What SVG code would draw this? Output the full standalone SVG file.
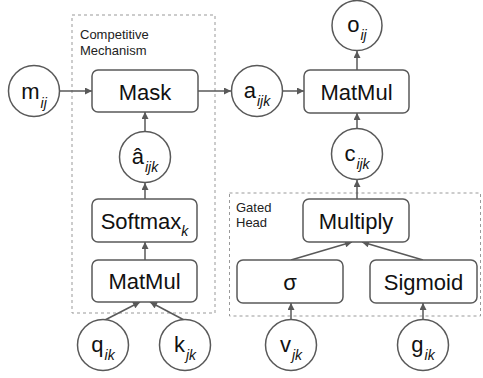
<svg xmlns="http://www.w3.org/2000/svg" width="483" height="378" viewBox="0 0 483 378">
<defs>
<marker id="ah" viewBox="0 0 10 10" refX="10" refY="5" markerWidth="8" markerHeight="7" markerUnits="userSpaceOnUse" orient="auto">
<path d="M0,0 L10,5 L0,10 z" fill="#595959"/>
</marker>
<style>
.box{fill:#fff;stroke:#595959;stroke-width:1.5}
.circ{fill:#fff;stroke:#595959;stroke-width:1.5}
.grp{fill:none;stroke:#999;stroke-width:1;stroke-dasharray:3,3}
.lbl{font-family:"Liberation Sans",Arial,sans-serif;font-size:22px;fill:#111;text-anchor:middle}
.sub{font-size:14px;font-style:italic}
.cap{font-family:"Liberation Sans",Arial,sans-serif;font-size:13px;fill:#222}
.edge{stroke:#595959;stroke-width:1.5;fill:none;marker-end:url(#ah)}
</style>
</defs>
<rect width="483" height="378" fill="#fff"/>
<g id="competitive-mechanism">
<rect class="grp" x="72" y="15" width="143" height="298"/>
<text class="cap" x="80" y="39">Competitive</text>
<text class="cap" x="80" y="55">Mechanism</text>
</g>
<g id="gated-head">
<rect class="grp" x="229.5" y="193" width="251" height="123"/>
<text class="cap" x="236" y="212">Gated</text>
<text class="cap" x="236" y="227">Head</text>
</g>
<g id="connectors">
<line class="edge" x1="60" y1="91" x2="92" y2="91"/>
<line class="edge" x1="145" y1="131" x2="145" y2="112"/>
<line class="edge" x1="145" y1="199" x2="145" y2="183"/>
<line class="edge" x1="145" y1="260" x2="145" y2="242"/>
<line class="edge" x1="103" y1="321" x2="140" y2="302"/>
<line class="edge" x1="186" y1="321" x2="150" y2="302"/>
<line class="edge" x1="198" y1="91" x2="231" y2="91"/>
<line class="edge" x1="283" y1="91" x2="304" y2="91"/>
<line class="edge" x1="357" y1="70" x2="357" y2="51"/>
<line class="edge" x1="357" y1="128" x2="357" y2="113"/>
<line class="edge" x1="357" y1="199" x2="357" y2="180"/>
<line class="edge" x1="291" y1="260" x2="352" y2="242"/>
<line class="edge" x1="423" y1="260" x2="362" y2="242"/>
<line class="edge" x1="291" y1="319" x2="291" y2="303"/>
<line class="edge" x1="423" y1="319" x2="423" y2="303"/>
</g>
<g id="m_ij"><circle class="circ" cx="34" cy="91" r="25.5"/><text class="lbl" x="34" y="99">m<tspan class="sub" dx="1" dy="9">ij</tspan></text></g>
<g id="mask"><rect class="box" x="92" y="70" width="106" height="42" rx="6"/><text class="lbl" x="145" y="100">Mask</text></g>
<g id="a_hat"><circle class="circ" cx="145" cy="157" r="25.5"/><text class="lbl" x="145" y="164">â<tspan class="sub" dx="1" dy="8">ijk</tspan></text></g>
<g id="softmax"><rect class="box" x="92" y="199" width="105" height="43" rx="6"/><text class="lbl" x="144.5" y="229">Softmax<tspan class="sub" dy="7">k</tspan></text></g>
<g id="matmul1"><rect class="box" x="92" y="260" width="105" height="42" rx="6"/><text class="lbl" x="144.5" y="289">MatMul</text></g>
<g id="q_ik"><circle class="circ" cx="103" cy="345" r="25.5"/><text class="lbl" x="103" y="352">q<tspan class="sub" dx="1" dy="8">ik</tspan></text></g>
<g id="k_jk"><circle class="circ" cx="185" cy="345" r="25.5"/><text class="lbl" x="185" y="352">k<tspan class="sub" dx="1" dy="8">jk</tspan></text></g>
<g id="a_ijk"><circle class="circ" cx="257" cy="91" r="25.5"/><text class="lbl" x="257" y="98">a<tspan class="sub" dx="1" dy="8">ijk</tspan></text></g>
<g id="matmul2"><rect class="box" x="304" y="70" width="105" height="43" rx="6"/><text class="lbl" x="356.5" y="100">MatMul</text></g>
<g id="o_ij"><circle class="circ" cx="357" cy="25.5" r="25"/><text class="lbl" x="357" y="32">o<tspan class="sub" dx="1" dy="8">ij</tspan></text></g>
<g id="c_ijk"><circle class="circ" cx="357" cy="154" r="25.5"/><text class="lbl" x="357" y="161">c<tspan class="sub" dx="1" dy="8">ijk</tspan></text></g>
<g id="multiply"><rect class="box" x="303" y="199" width="106" height="43" rx="6"/><text class="lbl" x="356" y="229">Multiply</text></g>
<g id="sigma"><rect class="box" x="237" y="260" width="106" height="43" rx="6"/><text class="lbl" x="290" y="290">σ</text></g>
<g id="sigmoid"><rect class="box" x="370" y="260" width="107" height="43" rx="6"/><text class="lbl" x="423.5" y="290">Sigmoid</text></g>
<g id="v_jk"><circle class="circ" cx="291" cy="345" r="25.5"/><text class="lbl" x="291" y="352">v<tspan class="sub" dx="1" dy="8">jk</tspan></text></g>
<g id="g_ik"><circle class="circ" cx="423" cy="345" r="25.5"/><text class="lbl" x="423" y="352">g<tspan class="sub" dx="1" dy="8">ik</tspan></text></g>
</svg>
